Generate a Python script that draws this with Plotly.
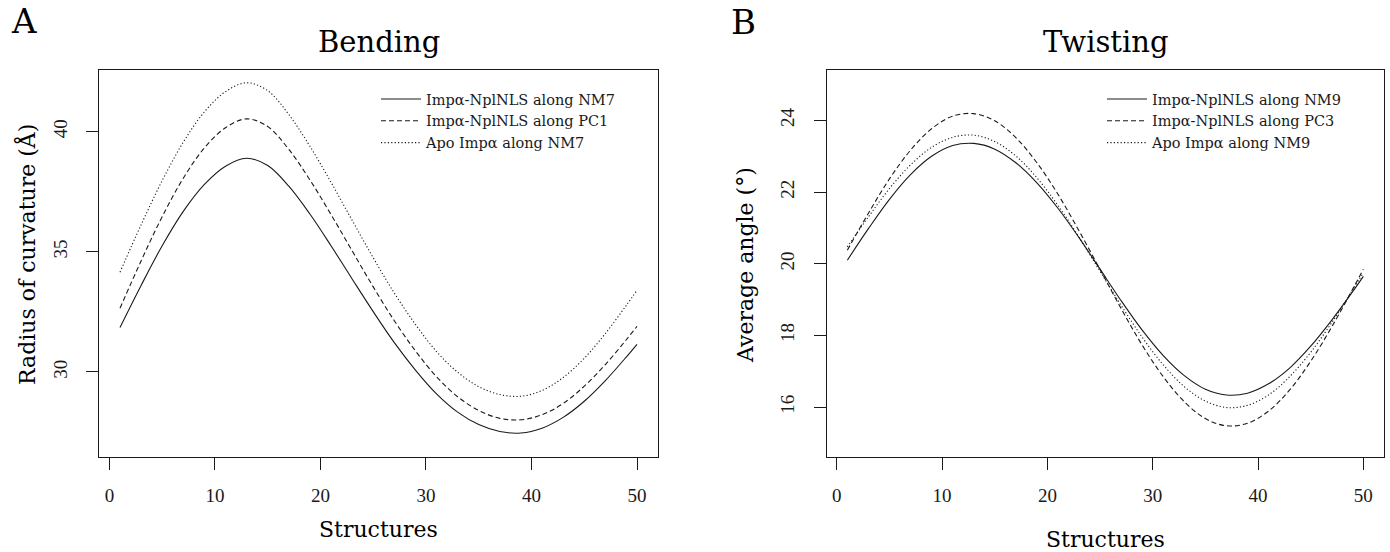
import plotly.graph_objects as go

# ---------------- data ----------------
structures = [1, 3, 5, 7, 9, 11, 13, 15, 17, 19, 21, 23, 25, 27, 29, 31, 33, 35, 37, 39, 41, 43, 45, 47, 49, 50]

bend_nm7 = [31.85, 33.60, 35.25, 36.68, 37.80, 38.56, 38.89, 38.59, 37.73, 36.57, 35.25, 33.87, 32.51,
            31.22, 30.08, 29.09, 28.33, 27.81, 27.52, 27.46, 27.66, 28.11, 28.78, 29.64, 30.63, 31.15]
bend_pc1 = [32.65, 34.62, 36.46, 38.06, 39.32, 40.16, 40.53, 40.21, 39.26, 37.99, 36.55, 35.04, 33.54,
            32.13, 30.88, 29.80, 28.97, 28.40, 28.07, 28.01, 28.22, 28.69, 29.41, 30.31, 31.35, 31.90]
bend_apo = [34.15, 36.12, 37.96, 39.56, 40.82, 41.66, 42.03, 41.70, 40.71, 39.39, 37.89, 36.31, 34.75,
            33.28, 31.98, 30.85, 29.99, 29.39, 29.06, 28.99, 29.23, 29.77, 30.57, 31.60, 32.78, 33.40]

twist_nm9 = [20.10, 20.98, 21.80, 22.49, 23.00, 23.30, 23.36, 23.20, 22.82, 22.26, 21.55, 20.73, 19.85,
             18.97, 18.15, 17.44, 16.88, 16.50, 16.34, 16.39, 16.65, 17.09, 17.70, 18.43, 19.23, 19.65]
twist_pc3 = [20.38, 21.41, 22.37, 23.17, 23.77, 24.12, 24.19, 23.99, 23.52, 22.82, 21.94, 20.92, 19.84,
             18.75, 17.73, 16.85, 16.15, 15.68, 15.48, 15.55, 15.89, 16.48, 17.28, 18.24, 19.30, 19.85]
twist_apo = [20.47, 21.31, 22.10, 22.76, 23.25, 23.53, 23.59, 23.41, 23.01, 22.40, 21.63, 20.74, 19.79,
             18.84, 17.95, 17.18, 16.57, 16.17, 15.99, 16.05, 16.34, 16.85, 17.53, 18.36, 19.28, 19.75]

bend_names = ["Impα-NplNLS along NM7", "Impα-NplNLS along PC1", "Apo Impα along NM7"]
twist_names = ["Impα-NplNLS along NM9", "Impα-NplNLS along PC3", "Apo Impα along NM9"]
x_ticks = [0, 10, 20, 30, 40, 50]
bend_ticks = [30, 35, 40]
twist_ticks = [16, 18, 20, 22, 24]

# ---------------- styling ----------------
W, H = 1390, 552
INK = "#1a1a1a"
SERIF = "DejaVu Serif, serif"
TICKF = "Liberation Serif, Times New Roman, serif"
dashes = ["solid", "5px,3px", "1.2px,2.2px"]

fig = go.Figure()

for ys, name, dash in zip([bend_nm7, bend_pc1, bend_apo], bend_names, dashes):
    fig.add_trace(go.Scatter(x=structures, y=ys, name=name, mode="lines",
                             line=dict(color=INK, width=1.1, dash=dash, shape="spline", smoothing=1.0),
                             xaxis="x", yaxis="y", legend="legend"))
for ys, name, dash in zip([twist_nm9, twist_pc3, twist_apo], twist_names, dashes):
    fig.add_trace(go.Scatter(x=structures, y=ys, name=name, mode="lines",
                             line=dict(color=INK, width=1.1, dash=dash, shape="spline", smoothing=1.0),
                             xaxis="x2", yaxis="y2", legend="legend2"))

def px_x(p):
    return p / W

def px_y(p):
    return 1 - p / H

ydom = [px_y(457.3), px_y(70.3)]
common_x = dict(range=[-0.96, 51.96], tickmode="array", tickvals=x_ticks, ticks="outside", ticklen=12,
                tickwidth=1, tickcolor=INK, showline=True, mirror=True, linecolor=INK, linewidth=1.2,
                showgrid=False, zeroline=False, tickfont=dict(family=TICKF, size=19, color=INK),
                ticklabelstandoff=9)
common_y = dict(ticks="outside", ticklen=12, tickwidth=1, tickcolor=INK, showline=True, mirror=True,
                linecolor=INK, linewidth=1.2, showgrid=False, zeroline=False, tickangle=-90,
                tickfont=dict(family=TICKF, size=19, color=INK), ticklabelstandoff=12, tickmode="array")

fig.update_layout(
    width=W, height=H, margin=dict(l=0, r=0, t=0, b=0),
    paper_bgcolor="white", plot_bgcolor="white",
    xaxis=dict(domain=[px_x(99.3), px_x(657.7)], anchor="y", **common_x),
    yaxis=dict(domain=ydom, anchor="x", range=[26.45, 42.55], tickvals=bend_ticks, **common_y),
    xaxis2=dict(domain=[px_x(826.7), px_x(1384)], anchor="y2", **common_x),
    yaxis2=dict(domain=ydom, anchor="x2", range=[14.60, 25.40], tickvals=twist_ticks, **common_y),
    legend=dict(x=px_x(376), y=px_y(83), xanchor="left", yanchor="top", bgcolor="rgba(0,0,0,0)",
                font=dict(family=SERIF, size=14.5, color=INK), tracegroupgap=0, itemwidth=40),
    legend2=dict(x=px_x(1102), y=px_y(83), xanchor="left", yanchor="top", bgcolor="rgba(0,0,0,0)",
                 font=dict(family=SERIF, size=14.5, color=INK), tracegroupgap=0, itemwidth=40),
    showlegend=True,
)

ann = []
def text(s, x, y, size, angle=0, family=SERIF):
    ann.append(dict(text=s, x=px_x(x), y=px_y(y), xref="paper", yref="paper", showarrow=False,
                    xanchor="center", yanchor="middle", textangle=angle,
                    font=dict(family=family, size=size, color="black")))

text("A", 24, 21, 34)
text("B", 743, 22, 34)
text("Bending", 378.5, 42, 29)
text("Twisting", 1105, 42, 29)
text("Structures", 378.5, 529, 22)
text("Structures", 1105, 539, 22)
text("Radius of curvature (Å)", 27, 255, 22, angle=-90)
text("Average angle (°)", 745, 265, 22, angle=-90)
fig.update_layout(annotations=ann)

fig.write_html("out.html", config={"displayModeBar": False},
               post_script="document.body.style.margin='0px';document.body.style.overflow='hidden';")
